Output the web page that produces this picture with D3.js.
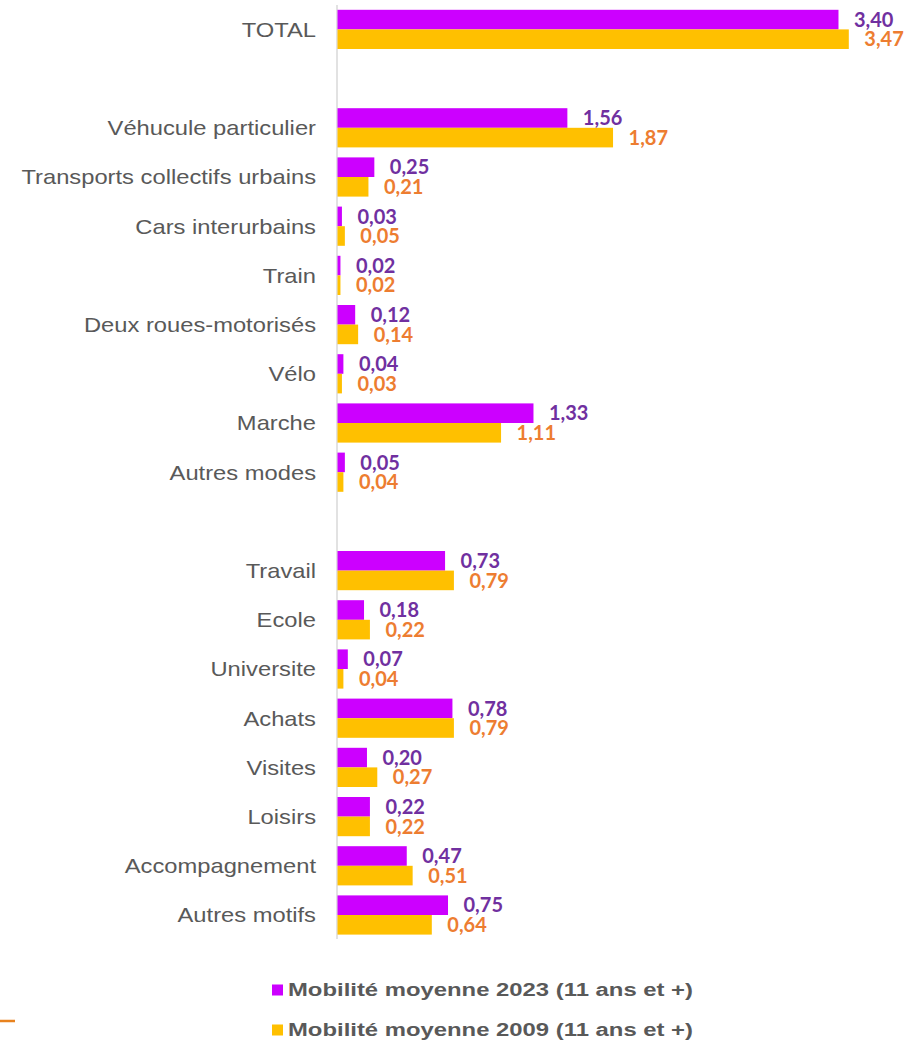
<!DOCTYPE html>
<html><head><meta charset="utf-8">
<script src="https://cdn.jsdelivr.net/npm/d3@7"></script>
<style>body{margin:0;background:#fff}svg{display:block}</style>
</head><body>
<script>
const categories = ["TOTAL","", "Véhucule particulier","Transports collectifs urbains","Cars interurbains","Train","Deux roues-motorisés","Vélo","Marche","Autres modes","", "Travail","Ecole","Universite","Achats","Visites","Loisirs","Accompagnement","Autres motifs"];
const values2023 = [3.40,null,1.56,0.25,0.03,0.02,0.12,0.04,1.33,0.05,null,0.73,0.18,0.07,0.78,0.20,0.22,0.47,0.75];
const values2009 = [3.47,null,1.87,0.21,0.05,0.02,0.14,0.03,1.11,0.04,null,0.79,0.22,0.04,0.79,0.27,0.22,0.51,0.64];
const seriesNames = ["Mobilité moyenne 2023 (11 ans et +)","Mobilité moyenne 2009 (11 ans et +)"];
const seriesKeys = ["s2023","s2009"];

const W=916,H=1044;
const barColors = {s2023:"#CC00FF", s2009:"#FFC000"};
const labelColors = {s2023:"#7030A0", s2009:"#ED7D31"};

const rows = categories.map((c,i)=>({key:"r"+i, label:c, s2023:values2023[i], s2009:values2009[i]}));

const svg = d3.select("body").append("svg").attr("width",W).attr("height",H);

const x = d3.scaleLinear().domain([0,4]).range([337,926.4]);
const y = d3.scaleBand().domain(rows.map(r=>r.key)).range([4.8,939.6]).padding(0);
const yi = d3.scaleBand().domain(seriesKeys).range([5, y.bandwidth()-5]).padding(0);

// axis line
svg.append("line").attr("x1",x(0)).attr("x2",x(0)).attr("y1",5).attr("y2",939)
  .attr("stroke","#D9D9D9").attr("stroke-width",1.5);

const g = svg.selectAll("g.row").data(rows).join("g").attr("class","row")
  .attr("transform",d=>`translate(0,${y(d.key)})`);

const catText = g.filter(d=>d.label!=="").append("text")
  .attr("x",x(0)-21).attr("y",y.bandwidth()/2).attr("dy","0.35em")
  .attr("text-anchor","end").attr("font-family","Liberation Sans, Arial, sans-serif")
  .attr("font-size",21).attr("fill","#595959").text(d=>d.label);
catText.each(function(){
  const L = this.getComputedTextLength();
  d3.select(this).attr("textLength", L*1.13).attr("lengthAdjust","spacingAndGlyphs");
});

seriesKeys.forEach(k=>{
  const rr = g.filter(d=>d[k]!=null);
  rr.append("rect").attr("x",x(0)+0.5).attr("y",yi(k)).attr("height",yi.bandwidth())
    .attr("width",d=>x(d[k])-x(0)).attr("fill",barColors[k]);
  rr.append("text").attr("x",d=>x(d[k])+16).attr("y",yi(k)+yi.bandwidth()/2).attr("dy","0.36em")
    .attr("font-family","Lato, Carlito, sans-serif").attr("font-weight","bold").attr("font-size",20)
    .attr("fill",labelColors[k]).text(d=>d3.format(".2f")(d[k]).replace(".",","));
});

// legend
const leg = svg.append("g");
seriesKeys.forEach((k,i)=>{
  const cy = 990 + i*40;
  leg.append("rect").attr("x",272).attr("y",cy-5.5).attr("width",11).attr("height",11).attr("fill",barColors[k]);
  leg.append("text").attr("x",288).attr("y",cy).attr("dy","0.36em")
    .attr("font-family","Liberation Sans, Arial, sans-serif").attr("font-weight","bold")
    .attr("font-size",18).attr("fill","#595959")
    .attr("textLength",405).attr("lengthAdjust","spacingAndGlyphs")
    .text(seriesNames[i]);
});
// decorative orange line
svg.append("line").attr("x1",0).attr("x2",15).attr("y1",1021).attr("y2",1021)
  .attr("stroke","#E8821E").attr("stroke-width",2.5);
</script>
</body></html>
